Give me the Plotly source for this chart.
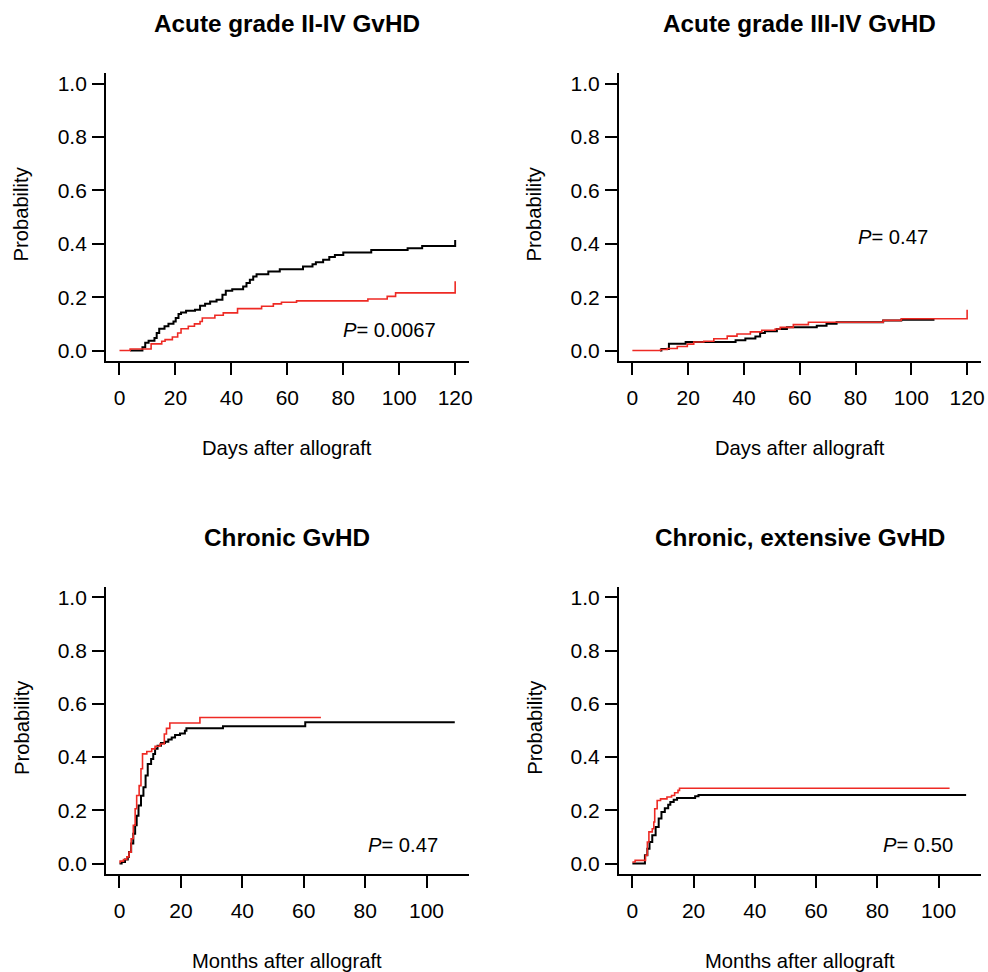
import plotly.graph_objects as go

# ---------------- data ----------------
titles = ["Acute grade II-IV GvHD", "Acute grade III-IV GvHD",
          "Chronic GvHD", "Chronic, extensive GvHD"]
x_titles = ["Days after allograft", "Days after allograft",
            "Months after allograft", "Months after allograft"]
p_labels = ["0.0067", "0.47", "0.47", "0.50"]
p_x = [96.7, 93.5, 92.4, 93.2]
p_y = [0.078, 0.424, 0.071, 0.071]

y_ticks = [0, 0.2, 0.4, 0.6, 0.8, 1.0]
y_ticktext = ["0.0", "0.2", "0.4", "0.6", "0.8", "1.0"]
x_ticks_days = [0, 20, 40, 60, 80, 100, 120]
x_ticks_months = [0, 20, 40, 60, 80, 100]

# Panel 1: acute grade II-IV
a24_black_x = [3.8, 8.2, 9.2, 10.4, 12.5, 13.3, 14.2, 16.1, 17.5, 19.3, 20.1, 21.1, 22.0,
               23.8, 27.0, 28.8, 30.6, 32.4, 34.7, 36.8, 38.0, 40.3, 44.2, 45.4, 46.6,
               47.8, 49.0, 53.2, 57.3, 65.6, 69.0, 70.2, 72.8, 75.0, 77.0, 80.0, 90.0,
               103.0, 108.2, 120.0, 120.0]
a24_black_y = [0, 0.012, 0.029, 0.037, 0.047, 0.066, 0.082, 0.091, 0.100, 0.109, 0.122,
               0.137, 0.143, 0.149, 0.153, 0.168, 0.175, 0.184, 0.190, 0.209, 0.224,
               0.230, 0.240, 0.253, 0.265, 0.277, 0.286, 0.296, 0.305, 0.315, 0.323,
               0.331, 0.340, 0.350, 0.358, 0.367, 0.377, 0.383, 0.392, 0.392, 0.414]
a24_red_x = [0, 3.8, 11.3, 15.1, 16.3, 18.9, 20.8, 22.0, 24.6, 26.8, 28.8, 29.6, 34.1,
             37.1, 42.2, 50.8, 55.0, 57.9, 63.3, 88.8, 95.7, 98.7, 120.0, 120.0]
a24_red_y = [0, 0.006, 0.025, 0.035, 0.041, 0.051, 0.066, 0.082, 0.091, 0.100, 0.109,
             0.122, 0.132, 0.141, 0.157, 0.166, 0.175, 0.181, 0.186, 0.193, 0.203,
             0.216, 0.216, 0.260]

# Panel 2: acute grade III-IV
a34_black_x = [9.9, 10.4, 13.1, 19.1, 37.0, 40.5, 44.1, 45.8, 47.5, 51.8, 55.4, 66.1,
               69.6, 73.2, 89.9, 96.4, 108.3]
a34_black_y = [0, 0.006, 0.026, 0.032, 0.039, 0.045, 0.053, 0.066, 0.072, 0.081, 0.087,
               0.093, 0.100, 0.106, 0.113, 0.115, 0.115]
a34_red_x = [0, 10.1, 12.5, 16.1, 19.7, 22.0, 25.6, 29.2, 34.0, 37.5, 42.3, 46.4, 51.2,
             53.0, 57.7, 63.1, 89.9, 96.4, 120.0, 120.0]
a34_red_y = [0, 0.004, 0.0075, 0.015, 0.024, 0.032, 0.035, 0.044, 0.054, 0.062, 0.070,
             0.076, 0.081, 0.087, 0.097, 0.106, 0.113, 0.119, 0.119, 0.153]

# Panel 3: chronic
c_black_x = [0, 0.7, 1.8, 2.7, 3.1, 3.8, 4.5, 5.1, 5.6, 6.2, 7.0, 7.8, 8.5, 9.2, 10.3,
             11.0, 11.6, 12.4, 13.5, 14.8, 15.9, 17.0, 18.1, 19.7, 21.3, 21.8, 33.7,
             60.5, 109.2]
c_black_y = [0, 0.006, 0.015, 0.025, 0.043, 0.075, 0.112, 0.144, 0.180, 0.218, 0.255,
             0.287, 0.331, 0.374, 0.393, 0.412, 0.431, 0.443, 0.453, 0.458, 0.466,
             0.474, 0.483, 0.489, 0.499, 0.508, 0.516, 0.531, 0.531]
c_red_x = [0, 0.2, 1.3, 2.4, 3.1, 3.8, 4.5, 5.1, 5.6, 6.4, 7.0, 7.5, 8.9, 10.5, 11.6,
           13.2, 14.6, 15.3, 16.4, 26.2, 65.6]
c_red_y = [0.004, 0.009, 0.015, 0.025, 0.043, 0.093, 0.144, 0.206, 0.256, 0.293, 0.356,
           0.412, 0.421, 0.431, 0.441, 0.449, 0.487, 0.508, 0.528, 0.549, 0.549]

# Panel 4: chronic extensive
ce_black_x = [0, 4.1, 4.9, 5.6, 6.5, 7.6, 8.6, 9.5, 10.6, 11.7, 12.4, 13.5, 14.6, 20.5,
              21.6, 109.0]
ce_black_y = [0, 0.031, 0.056, 0.081, 0.106, 0.137, 0.169, 0.194, 0.208, 0.221, 0.231,
              0.240, 0.246, 0.253, 0.258, 0.258]
ce_red_x = [0, 0.9, 4.3, 4.9, 5.4, 6.5, 7.0, 7.3, 8.1, 9.2, 11.3, 12.8, 13.8, 14.9, 15.4,
            103.6]
ce_red_y = [0.006, 0.012, 0.031, 0.081, 0.119, 0.131, 0.156, 0.206, 0.237, 0.243, 0.250,
            0.256, 0.266, 0.275, 0.283, 0.283]

# ---------------- figure ----------------
W, H = 988, 972
FONT = "Liberation Sans, Arial, Helvetica, sans-serif"
BLACK = "#000000"
RED = "#ee2a24"


def fx(px):
    return px / W


def fy(py):
    return 1 - py / H


fig = go.Figure()

series = [
    (a24_black_x, a24_black_y, a24_red_x, a24_red_y),
    (a34_black_x, a34_black_y, a34_red_x, a34_red_y),
    (c_black_x, c_black_y, c_red_x, c_red_y),
    (ce_black_x, ce_black_y, ce_red_x, ce_red_y),
]

for i, (bx, by, rx, ry) in enumerate(series):
    xa = "x" if i == 0 else f"x{i+1}"
    ya = "y" if i == 0 else f"y{i+1}"
    fig.add_trace(go.Scatter(x=bx, y=by, mode="lines", line=dict(color=BLACK, width=2, shape="hv"),
                             xaxis=xa, yaxis=ya, showlegend=False, hoverinfo="skip"))
    fig.add_trace(go.Scatter(x=rx, y=ry, mode="lines", line=dict(color=RED, width=1.6, shape="hv"),
                             xaxis=xa, yaxis=ya, showlegend=False, hoverinfo="skip"))

# layout geometry in page pixels
x_dom_px = [(106.5, 470.5), (621.5, 984.5), (106.5, 470.5), (621.5, 984.5)]
y_dom_px = [(72.0, 361.0), (72.0, 361.0), (587.0, 875.0), (587.0, 875.0)]
x_ranges = [[-4.8, 124.8], [-4.8, 124.8], [-4.37, 113.7], [-4.37, 113.7]]
x_tickvals = [x_ticks_days, x_ticks_days, x_ticks_months, x_ticks_months]

axis_common = dict(showline=True, linecolor="black", linewidth=2, ticks="outside",
                   ticklen=12, tickwidth=2, tickcolor="black", showgrid=False,
                   zeroline=False, fixedrange=True,
                   tickfont=dict(family=FONT, size=21, color="black"))

layout_axes = {}
annotations = []
for i in range(4):
    sfx = "" if i == 0 else str(i + 1)
    x0, x1 = x_dom_px[i]
    y0, y1 = y_dom_px[i]
    layout_axes[f"xaxis{sfx}"] = dict(
        axis_common, domain=[fx(x0), fx(x1)], range=x_ranges[i],
        tickvals=x_tickvals[i], ticktext=[str(v) for v in x_tickvals[i]],
        anchor=f"y{sfx}", ticklabelstandoff=5)
    layout_axes[f"yaxis{sfx}"] = dict(
        axis_common, domain=[fy(y1), fy(y0)], range=[-0.04, 1.04],
        tickvals=y_ticks, ticktext=y_ticktext, anchor=f"x{sfx}", ticklabelstandoff=1)
    cx = (x0 + x1) / 2
    cy = (y0 + y1) / 2
    # panel title
    annotations.append(dict(text=f"<b>{titles[i]}</b>", x=fx(cx), y=fy(y0 - 49),
                            xref="paper", yref="paper", xanchor="center", yanchor="middle",
                            showarrow=False, font=dict(family=FONT, size=24.3, color="black")))
    # x axis title
    annotations.append(dict(text=x_titles[i], x=fx(cx), y=fy(y1 + 87),
                            xref="paper", yref="paper", xanchor="center", yanchor="middle",
                            showarrow=False, font=dict(family=FONT, size=20.2, color="black")))
    # y axis title
    annotations.append(dict(text="Probability", x=fx(x0 - 85), y=fy(cy - 3),
                            xref="paper", yref="paper", xanchor="center", yanchor="middle",
                            textangle=-90, showarrow=False,
                            font=dict(family=FONT, size=20.2, color="black")))
    # P value
    annotations.append(dict(text=f"<i>P</i>= {p_labels[i]}", x=p_x[i], y=p_y[i],
                            xref=f"x{sfx}", yref=f"y{sfx}", xanchor="center", yanchor="middle",
                            showarrow=False, font=dict(family=FONT, size=20.2, color="black")))

fig.update_layout(width=W, height=H, margin=dict(l=0, r=0, t=0, b=0),
                  paper_bgcolor="white", plot_bgcolor="white",
                  annotations=annotations, **layout_axes)

# the page body has a default margin; remove it so the figure fills the window exactly
fig.write_html("out.html", config={"displayModeBar": False, "staticPlot": True},
               post_script="document.body.style.margin='0';"
                           "document.body.style.overflow='hidden';")
